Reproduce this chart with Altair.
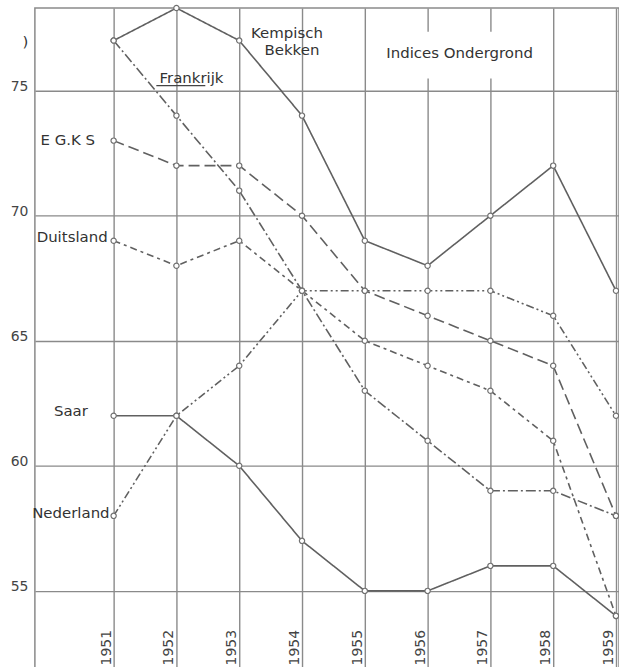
import altair as alt
import pandas as pd

# ---- data ----
years = [1951, 1952, 1953, 1954, 1955, 1956, 1957, 1958, 1959]
series_names = ["Kempisch Bekken", "Frankrijk", "E G.K S", "Duitsland", "Saar", "Nederland"]
kempisch = [77, 78.3, 77, 74, 69, 68, 70, 72, 67]
frankrijk = [77, 74, 71, 67, 63, 61, 59, 59, 58]
egks = [73, 72, 72, 70, 67, 66, 65, 64, 58]
duitsland = [69, 68, 69, 67, 65, 64, 63, 61, 54]
saar = [62, 62, 60, 57, 55, 55, 56, 56, 54]
nederland = [58, 62, 64, 67, 67, 67, 67, 66, 62]
y_ticks = [55, 60, 65, 70, 75]

rows = []
for name, vals in zip(series_names, [kempisch, frankrijk, egks, duitsland, saar, nederland]):
    for yr, v in zip(years, vals):
        rows.append({"serie": name, "jaar": yr, "index": v})
df = pd.DataFrame(rows)

# annotation texts (anchored in data coordinates)
label_texts = ["Kempisch", "Bekken", "Frankrijk", "E G.K S", "Duitsland", "Saar", "Nederland", "Indices Ondergrond", ")"]
label_x = [1953.76, 1953.84, 1952.24, 1950.27, 1950.905, 1950.32, 1950.936, 1956.51, 1949.595]
label_y = [77.30, 76.63, 75.50, 73.04, 69.13, 62.2, 58.1, 76.51, 76.95]
label_align = ["center", "center", "center", "center", "right", "center", "right", "center", "center"]
labels_df = pd.DataFrame({"text": label_texts, "x": label_x, "y": label_y, "align": label_align})

year_df = pd.DataFrame({"jaar": years, "txt": [str(y) for y in years], "pos": [52.02] * len(years)})

underline_df = pd.DataFrame({"x": [1951.68], "x2": [1952.46], "y": [75.2]})
mask_df = pd.DataFrame({"x": [1955.30], "x2": [1957.89], "y": [75.48], "y2": [77.35]})

dash_range = [[1, 0], [10, 3, 2, 3], [11, 5], [7, 4, 3, 4], [1, 0], [8, 3, 2, 3, 2, 3]]

xscale = alt.Scale(domain=[1949.746, 1959.048], nice=False, zero=False)
yscale = alt.Scale(domain=[51.92, 78.3], nice=False, zero=False)

X = alt.X("jaar:Q", scale=xscale,
          axis=alt.Axis(values=years, labels=False, ticks=False, domain=False, grid=True, title=None))
Y = alt.Y("index:Q", scale=yscale,
          axis=alt.Axis(values=y_ticks, ticks=False, tickSize=0, domain=False, grid=True, title=None,
                        labelPadding=7, labelFontSize=14, labelColor="#444", labelFont="DejaVu Sans",
                        labelBaseline="alphabetic"))

base = alt.Chart(df)

mask = alt.Chart(mask_df).mark_rect(color="white").encode(
    x=alt.X("x:Q", scale=xscale), x2="x2:Q",
    y=alt.Y("y:Q", scale=yscale), y2="y2:Q")

lines = base.mark_line(color="#606060", strokeWidth=1.6).encode(
    x=X, y=Y,
    strokeDash=alt.StrokeDash("serie:N", scale=alt.Scale(domain=series_names, range=dash_range), legend=None),
    detail="serie:N")

points = base.mark_point(shape="circle", filled=True, fill="white", stroke="#707070",
                         strokeWidth=1.2, size=28, opacity=1).encode(x=X, y=Y)


def label_layer(align):
    return alt.Chart(labels_df).transform_filter(
        alt.datum.align == align
    ).mark_text(fontSize=15, font="DejaVu Sans", color="#333", baseline="middle", align=align).encode(
        x=alt.X("x:Q", scale=xscale), y=alt.Y("y:Q", scale=yscale), text="text:N")


labels_c = label_layer("center")
labels_r = label_layer("right")

underline = alt.Chart(underline_df).mark_rule(color="#444", strokeWidth=1.2).encode(
    x=alt.X("x:Q", scale=xscale), x2="x2:Q", y=alt.Y("y:Q", scale=yscale))

year_labels = alt.Chart(year_df).mark_text(angle=270, align="left", baseline="bottom",
                                           fontSize=14, font="DejaVu Sans", color="#444").encode(
    x=alt.X("jaar:Q", scale=xscale), y=alt.Y("pos:Q", scale=yscale), text="txt:N")

chart = alt.layer(mask, lines, points, labels_c, labels_r, underline, year_labels).properties(
    width=586, height=662,
    padding={"left": 35, "top": 7, "right": 0, "bottom": 0},
    autosize=alt.AutoSizeParams(type="none"),
    background="white",
).configure_view(stroke="#8a8a8a", strokeWidth=1.5).configure_axis(
    gridColor="#8a8a8a", gridWidth=1.4, gridOpacity=1)

chart.save("out.html", embed_options={"renderer": "svg", "actions": False})
